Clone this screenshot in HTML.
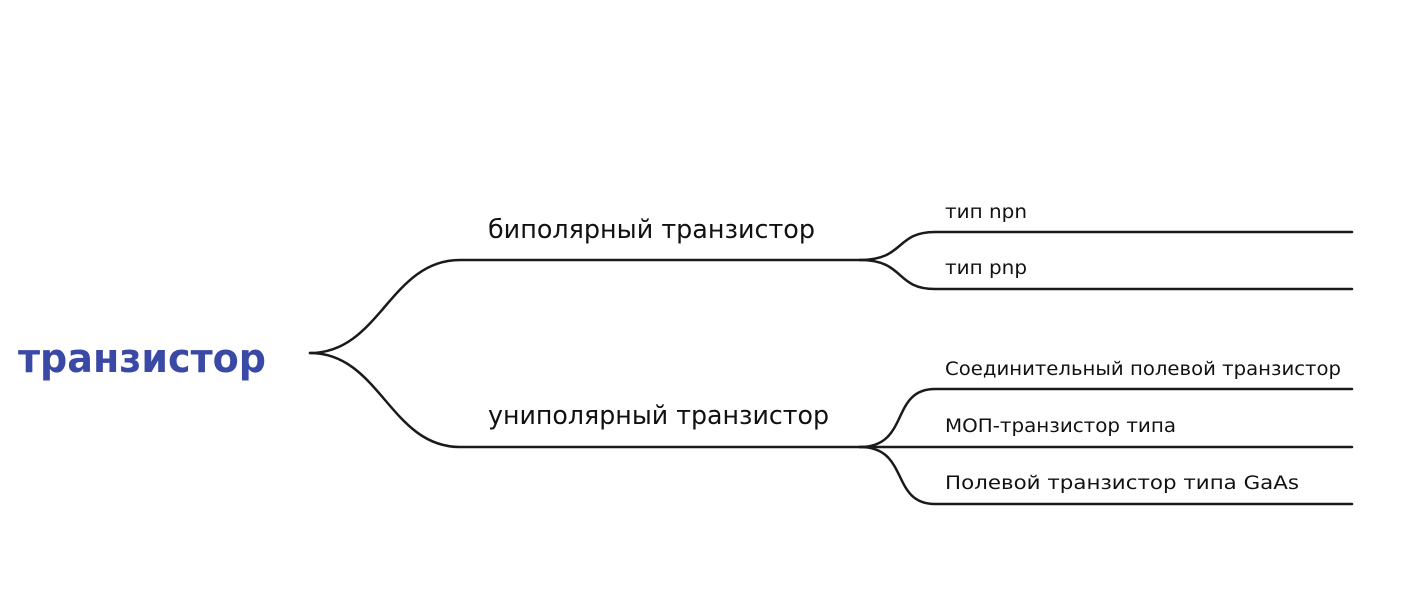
<!DOCTYPE html>
<html><head><meta charset="utf-8"><style>
html,body{margin:0;padding:0;background:#fff;}
svg{display:block;}
text{font-family:"DejaVu Sans","Liberation Sans",sans-serif;fill:#111;}
</style></head><body>
<svg width="1422" height="604" viewBox="0 0 1422 604" xmlns="http://www.w3.org/2000/svg">
<g fill="none" stroke="#1a1a1a" stroke-width="2.5" stroke-linecap="round">
<path d="M310,353 C380,353 390,260 460,260 L860,260"/>
<path d="M310,353 C380,353 390,447 460,447 L860,447"/>
<path d="M860,260 C905,260 895,232 935,232 L1352,232"/>
<path d="M860,260 C905,260 895,289 935,289 L1352,289"/>
<path d="M860,447 C910,447 890,389 935,389 L1352,389"/>
<path d="M860,447 L1352,447"/>
<path d="M860,447 C910,447 890,504 935,504 L1352,504"/>
</g>
<text x="18" y="372" font-size="40" font-weight="bold" style="fill:#3a48a6" textLength="248" lengthAdjust="spacingAndGlyphs">транзистор</text>
<text x="488" y="238" font-size="26" textLength="327" lengthAdjust="spacingAndGlyphs">биполярный транзистор</text>
<text x="488" y="424" font-size="26" textLength="341" lengthAdjust="spacingAndGlyphs">униполярный транзистор</text>
<text x="945" y="218" font-size="19" textLength="82" lengthAdjust="spacingAndGlyphs">тип npn</text>
<text x="945" y="274" font-size="19" textLength="82" lengthAdjust="spacingAndGlyphs">тип pnp</text>
<text x="945" y="375" font-size="19" textLength="396" lengthAdjust="spacingAndGlyphs">Соединительный полевой транзистор</text>
<text x="945" y="432" font-size="19" textLength="231" lengthAdjust="spacingAndGlyphs">МОП-транзистор типа</text>
<text x="945" y="489" font-size="19" textLength="354" lengthAdjust="spacingAndGlyphs">Полевой транзистор типа GaAs</text>
</svg>
</body></html>
